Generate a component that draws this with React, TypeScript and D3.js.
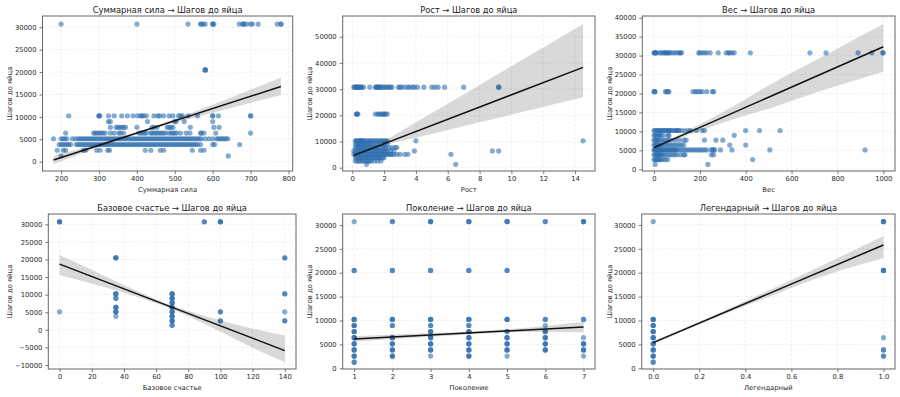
import React, { useEffect, useRef } from "react";
import * as d3 from "d3";

// rows: [шагов до яйца, x-значения точек]
type Row = [number, number[]];
// [x, шагов до яйца, сколько точек лежит друг на друге]
type Stack = [number, number, number];
// [x, линия, нижняя граница ДИ, верхняя граница ДИ]
type Fit = [number, number, number, number];

const stepsLabel = "Шагов до яйца";

const totalRows: Row[] = [
  [30720, [200, 400, 535, 568, 570, 575, 580, 600, 600, 603, 670, 680, 680, 683, 690, 700, 705, 720, 770, 780, 780]],
  [20480, [580, 580, 581]],
  [10240, [220, 300, 300, 302, 325, 340, 360, 375, 390, 402, 410, 413, 418, 425, 445, 455, 460, 470, 485, 495, 510, 515, 520, 535, 560, 600, 600, 615, 700, 700]],
  [8960, [325, 330, 428, 500, 503, 525, 600]],
  [7680, [330, 345, 350, 355, 360, 365, 370, 400, 440, 445, 453, 480, 485, 490, 495, 541, 603, 617]],
  [6400, [212, 286, 290, 295, 300, 305, 310, 316, 330, 340, 352, 357, 365, 405, 410, 415, 420, 425, 436, 440, 445, 450, 455, 460, 465, 470, 475, 484, 490, 495, 500, 505, 515, 530, 540, 568, 570, 577, 608, 700]],
  [5120, [180, 200, 205, 210, 215, 230, 238, 245, 250, 255, 260, 265, 270, 275, 280, 285, 290, 295, 300, 305, 310, 315, 320, 325, 330, 335, 340, 345, 350, 355, 360, 365, 370, 375, 380, 385, 390, 395, 400, 405, 410, 415, 420, 425, 430, 435, 440, 445, 450, 455, 460, 465, 470, 475, 480, 485, 490, 495, 500, 505, 510, 515, 520, 525, 530, 535, 540, 545, 550, 555, 560, 565, 570, 580, 590, 600, 610, 615, 620, 625, 630, 635, 640]],
  [3840, [195, 200, 205, 210, 215, 220, 225, 240, 245, 250, 255, 260, 265, 270, 275, 280, 285, 290, 295, 300, 305, 310, 315, 320, 325, 330, 335, 340, 345, 350, 355, 360, 365, 370, 375, 380, 385, 390, 395, 400, 405, 410, 415, 420, 425, 430, 435, 440, 445, 450, 455, 460, 465, 470, 475, 480, 485, 490, 495, 500, 505, 510, 515, 520, 525, 530, 535, 540, 545, 550, 555, 560, 568, 600, 605, 671]],
  [2560, [190, 206, 212, 259, 265, 294, 303, 323, 328, 422, 437, 462, 471, 546, 568, 577]],
  [1280, [200, 641]],
];

const heightRows: Row[] = [
  [30720, [0.1, 0.15, 0.2, 0.25, 0.3, 0.35, 0.4, 0.45, 0.5, 0.55, 0.6, 0.7, 1.1, 1.45, 1.5, 1.55, 1.6, 1.65, 1.7, 1.75, 1.8, 1.9, 2.0, 2.1, 2.2, 2.3, 2.4, 2.5, 2.9, 3.0, 3.1, 3.3, 3.5, 3.6, 3.8, 3.9, 4.1, 4.5, 5.0, 5.2, 5.4, 5.8, 7.0, 9.2, 9.2]],
  [20480, [0.25, 0.3, 0.3, 0.35, 1.45, 1.6, 1.7, 1.8, 1.9, 2.0, 2.0, 2.1, 2.2]],
  [10240, [0.2, 0.25, 0.3, 0.4, 0.45, 0.5, 0.55, 0.6, 0.65, 0.7, 0.8, 0.9, 1.0, 1.1, 1.2, 1.3, 1.4, 1.5, 1.6, 1.7, 1.8, 1.9, 2.0, 2.1, 2.2, 4.0, 14.5]],
  [8960, [0.2, 0.3, 0.4, 0.5, 0.6, 0.7, 0.8, 0.9, 1.0, 1.1, 1.2, 1.3, 1.5, 1.6, 1.8, 2.0, 2.2]],
  [7680, [0.2, 0.3, 0.4, 0.5, 0.6, 0.7, 0.8, 0.9, 1.0, 1.1, 1.2, 1.4, 1.5, 1.6, 1.7, 1.9, 2.0, 2.1, 2.3, 2.5, 2.7, 2.8]],
  [6400, [0.1, 0.2, 0.3, 0.4, 0.5, 0.6, 0.7, 0.8, 0.9, 1.0, 1.1, 1.2, 1.3, 1.4, 1.5, 1.6, 1.7, 1.8, 1.9, 2.0, 2.1, 2.2, 2.4, 2.6, 3.9, 8.8, 9.2]],
  [5120, [0.1, 0.2, 0.3, 0.4, 0.5, 0.6, 0.7, 0.8, 0.9, 1.0, 1.1, 1.2, 1.3, 1.4, 1.5, 1.6, 1.7, 1.8, 1.9, 2.0, 2.1, 2.2, 2.3, 2.4, 2.5, 2.6, 2.8, 3.0, 3.3, 3.5, 6.2]],
  [3840, [0.2, 0.3, 0.4, 0.5, 0.6, 0.7, 0.8, 0.9, 1.0, 1.1, 1.2, 1.3, 1.4, 1.5, 1.6, 1.7, 1.8, 1.9, 2.0]],
  [2560, [0.2, 0.3, 0.4, 0.5, 0.6, 0.7, 0.8, 0.9, 1.0, 1.1, 1.2, 1.4, 1.6, 1.8]],
  [1280, [0.9, 6.5]],
];

const weightRows: Row[] = [
  [30720, [0, 2, 5, 8, 10, 25, 30, 40, 45, 50, 55, 60, 65, 70, 80, 90, 100, 110, 115, 120, 195, 200, 210, 220, 230, 245, 280, 315, 325, 330, 340, 350, 420, 680, 750, 890, 950, 999, 999]],
  [20480, [0, 2, 5, 50, 55, 60, 65, 170, 180, 190, 200, 210, 230, 255, 260]],
  [10240, [0, 5, 10, 15, 20, 25, 30, 35, 40, 45, 50, 55, 60, 65, 70, 75, 80, 90, 95, 100, 105, 110, 120, 135, 150, 160, 185, 210, 220, 400, 460, 550]],
  [8960, [0, 5, 10, 20, 25, 30, 40, 60, 65, 350]],
  [7680, [0, 5, 10, 15, 20, 30, 40, 50, 60, 70, 90, 110, 130, 140, 220, 270, 300]],
  [6400, [0, 5, 10, 15, 20, 25, 30, 40, 50, 60, 70, 80, 90, 100, 110, 120, 130, 330, 400]],
  [5120, [0, 3, 6, 10, 14, 18, 22, 26, 30, 35, 40, 45, 50, 55, 60, 65, 70, 75, 80, 85, 90, 95, 100, 110, 120, 130, 140, 150, 160, 170, 180, 190, 200, 210, 220, 230, 250, 255, 260, 265, 290, 340, 505, 920]],
  [3840, [0, 5, 10, 15, 20, 25, 30, 35, 40, 50, 60, 70, 80, 90, 100, 115, 130, 135, 250, 260]],
  [2560, [0, 5, 10, 15, 20, 25, 30, 40, 50, 60, 430]],
  [1280, [5, 235]],
];

const happinessPts: Stack[] = [
  [0, 30720, 3], [0, 5120, 1],
  [35, 20480, 3], [35, 10240, 3], [35, 8960, 2], [35, 6400, 3], [35, 5120, 3], [35, 3840, 1],
  [70, 10240, 3], [70, 8960, 3], [70, 7680, 3], [70, 6400, 3], [70, 5120, 3], [70, 3840, 3], [70, 2560, 3], [70, 1280, 2],
  [90, 30720, 2],
  [100, 30720, 3], [100, 5120, 2], [100, 2560, 2],
  [140, 20480, 2], [140, 10240, 2], [140, 5120, 1], [140, 2560, 2],
];

const generationPts: Stack[] = [
  [1, 30720, 1], [1, 20480, 2], [1, 10240, 3], [1, 8960, 3], [1, 7680, 3], [1, 6400, 3], [1, 5120, 3], [1, 3840, 3], [1, 2560, 3], [1, 1280, 2],
  [2, 30720, 2], [2, 20480, 2], [2, 10240, 3], [2, 8960, 2], [2, 6400, 3], [2, 5120, 3], [2, 3840, 3], [2, 2560, 3],
  [3, 30720, 3], [3, 20480, 2], [3, 10240, 3], [3, 8960, 2], [3, 7680, 3], [3, 6400, 3], [3, 5120, 3], [3, 3840, 3], [3, 2560, 1],
  [4, 30720, 3], [4, 20480, 2], [4, 10240, 3], [4, 8960, 2], [4, 7680, 3], [4, 6400, 3], [4, 5120, 3], [4, 3840, 3], [4, 2560, 3],
  [5, 30720, 3], [5, 20480, 2], [5, 10240, 3], [5, 7680, 2], [5, 6400, 3], [5, 5120, 3], [5, 3840, 3], [5, 2560, 1],
  [6, 30720, 2], [6, 10240, 2], [6, 8960, 1], [6, 7680, 3], [6, 6400, 3], [6, 5120, 3], [6, 3840, 3],
  [7, 30720, 3], [7, 10240, 2], [7, 6400, 1], [7, 5120, 3], [7, 3840, 3], [7, 2560, 1],
];

const legendaryPts: Stack[] = [
  [0, 30720, 1], [0, 10240, 3], [0, 8960, 3], [0, 7680, 3], [0, 6400, 3], [0, 5120, 3], [0, 3840, 3], [0, 2560, 3], [0, 1280, 2],
  [1, 30720, 3], [1, 20480, 3], [1, 6400, 1], [1, 3840, 2], [1, 2560, 2],
];

const totalFit: Fit[] = [
  [180, 372, -500, 1250], [280, 3107, 2600, 3600], [380, 5842, 5570, 6110], [480, 8577, 8250, 8900],
  [580, 11312, 10500, 12100], [680, 14047, 12700, 15400], [780, 16782, 14880, 18820],
];
const heightFit: Fit[] = [
  [0.1, 4707, 4100, 5300], [1, 6800, 6400, 7200], [2, 9140, 8500, 10200], [4, 13800, 11400, 17300],
  [8, 23140, 17300, 31600], [11, 30140, 21700, 42300], [14.5, 38300, 26850, 54850],
];
const weightFit: Fit[] = [
  [0, 5714, 5300, 6150], [100, 8378, 7900, 8850], [200, 11040, 10200, 11900], [350, 15040, 13300, 16800],
  [500, 19030, 16000, 22180], [750, 25690, 21100, 30250], [1000, 32350, 25760, 38330],
];
const happinessFit: Fit[] = [
  [0, 18670, 15600, 21300], [20, 15160, 13200, 17100], [40, 11650, 10550, 12750], [70, 6385, 5850, 6900],
  [100, 1120, -500, 2700], [120, -2390, -5100, 300], [140, -5900, -9240, -1620],
];
const generationFit: Fit[] = [
  [1, 6140, 5580, 6700], [2.5, 6770, 6330, 7210], [4, 7400, 7100, 7700], [5.5, 8030, 7580, 8480], [7, 8650, 7540, 9770],
];
const legendaryFit: Fit[] = [
  [0, 5370, 5050, 5700], [0.25, 10480, 10150, 10800], [0.5, 15600, 14900, 16300], [0.75, 20710, 19500, 21900], [1, 25820, 23030, 27700],
];

const totalTicks = [200, 300, 400, 500, 600, 700, 800];
const heightTicks = [0, 2, 4, 6, 8, 10, 12, 14];
const weightTicks = [0, 200, 400, 600, 800, 1000];
const happinessTicks = [0, 20, 40, 60, 80, 100, 120, 140];
const generationTicks = [1, 2, 3, 4, 5, 6, 7];
const legendaryTicks = [0, 0.2, 0.4, 0.6, 0.8, 1.0];

const steps30k = [0, 5000, 10000, 15000, 20000, 25000, 30000];
const steps50k = [0, 10000, 20000, 30000, 40000, 50000];
const steps40k = [0, 5000, 10000, 15000, 20000, 25000, 30000, 35000, 40000];
const stepsNeg = [-10000, -5000, 0, 5000, 10000, 15000, 20000, 25000, 30000];

const fromRows = (rows: Row[]) => rows.flatMap(([s, xs]) => xs.map(x => [x, s] as [number, number]));
const fromStacks = (pts: Stack[]) =>
  pts.flatMap(([x, s, n]) => d3.range(n).map(() => [x, s] as [number, number]));

const panels = [
  {
    name: "Суммарная сила", box: [42.5, 292.7, 16, 171], ylx: 9.3,
    xDomain: [151, 811], yDomain: [-2076, 32522], xTicks: totalTicks, yTicks: steps30k,
    xFmt: d3.format("d"), points: fromRows(totalRows), fit: totalFit,
  },
  {
    name: "Рост", box: [342.7, 595, 16, 171], ylx: 309.3,
    xDomain: [-0.6, 15.25], yDomain: [-1260, 57900], xTicks: heightTicks, yTicks: steps50k,
    xFmt: d3.format("d"), points: fromRows(heightRows), fit: heightFit,
  },
  {
    name: "Вес", box: [642.3, 895, 16, 171], ylx: 609.3,
    xDomain: [-51, 1051], yDomain: [-450, 40450], xTicks: weightTicks, yTicks: steps40k,
    xFmt: d3.format("d"), points: fromRows(weightRows), fit: weightFit,
  },
  {
    name: "Базовое счастье", box: [48.3, 296, 214, 369], ylx: 9.3,
    xDomain: [-7, 147], yDomain: [-11137, 32928], xTicks: happinessTicks, yTicks: stepsNeg,
    xFmt: d3.format("d"), points: fromStacks(happinessPts), fit: happinessFit,
  },
  {
    name: "Поколение", box: [342.7, 595, 214, 369], ylx: 309.3,
    xDomain: [0.7, 7.3], yDomain: [-147, 32300], xTicks: generationTicks, yTicks: steps30k,
    xFmt: d3.format("d"), points: fromStacks(generationPts), fit: generationFit,
  },
  {
    name: "Легендарный", box: [641.7, 895, 214, 369], ylx: 609.3,
    xDomain: [-0.05, 1.05], yDomain: [-147, 32300], xTicks: legendaryTicks, yTicks: steps30k,
    xFmt: d3.format(".1f"), points: fromStacks(legendaryPts), fit: legendaryFit,
  },
];

const FONT = "DejaVu Sans, Verdana, sans-serif";

const App = () => {
  const ref = useRef<SVGSVGElement>(null);

  useEffect(() => {
    document.body.style.margin = "0";
    const svg = d3.select(ref.current);
    svg.selectAll("*").remove();

    panels.forEach((p, i) => {
      const [l, r, t, b] = p.box;
      const x = d3.scaleLinear().domain(p.xDomain).range([l, r]);
      const y = d3.scaleLinear().domain(p.yDomain).range([b, t]);
      const g = svg.append("g");

      const clipId = `clip-${i}`;
      svg.append("clipPath").attr("id", clipId)
        .append("rect").attr("x", l).attr("y", t).attr("width", r - l).attr("height", b - t);

      // Grid
      g.append("g").selectAll("line").data(p.xTicks).join("line")
        .attr("x1", d => x(d)).attr("x2", d => x(d)).attr("y1", t).attr("y2", b)
        .attr("stroke", "#e2e2e2").attr("stroke-width", 0.6).attr("stroke-dasharray", "2.5,2");
      g.append("g").selectAll("line").data(p.yTicks).join("line")
        .attr("x1", l).attr("x2", r).attr("y1", d => y(d)).attr("y2", d => y(d))
        .attr("stroke", "#e2e2e2").attr("stroke-width", 0.6).attr("stroke-dasharray", "2.5,2");

      const plot = g.append("g").attr("clip-path", `url(#${clipId})`);

      // Points
      plot.append("g").selectAll("circle").data(p.points).join("circle")
        .attr("cx", d => x(d[0])).attr("cy", d => y(d[1])).attr("r", 2.6)
        .attr("fill", "#2e6eb0").attr("fill-opacity", 0.58);

      // CI band
      const band = d3.area<Fit>()
        .x(d => x(d[0])).y0(d => y(d[2])).y1(d => y(d[3]))
        .curve(d3.curveMonotoneX);
      plot.append("path").attr("d", band(p.fit)).attr("fill", "#000").attr("fill-opacity", 0.15);

      // Fit line
      const first = p.fit[0];
      const last = p.fit[p.fit.length - 1];
      plot.append("line")
        .attr("x1", x(first[0])).attr("y1", y(first[1]))
        .attr("x2", x(last[0])).attr("y2", y(last[1]))
        .attr("stroke", "#111").attr("stroke-width", 1.5);

      // Axes
      const xa = g.append("g").attr("transform", `translate(0,${b})`)
        .call(d3.axisBottom(x).tickValues(p.xTicks).tickFormat(p.xFmt as any).tickSize(3).tickPadding(2.5));
      const ya = g.append("g").attr("transform", `translate(${l},0)`)
        .call(d3.axisLeft(y).tickValues(p.yTicks).tickFormat(d3.format("d") as any).tickSize(3).tickPadding(3));
      [xa, ya].forEach(a => {
        a.select(".domain").remove();
        a.selectAll("line").attr("stroke", "#555").attr("stroke-width", 0.8);
        a.selectAll("text").attr("font-family", FONT).attr("font-size", "6.8px").attr("fill", "#2a2a2a");
      });

      g.append("rect").attr("x", l).attr("y", t).attr("width", r - l).attr("height", b - t)
        .attr("fill", "none").attr("stroke", "#666").attr("stroke-width", 1);

      // Labels
      g.append("text").attr("x", (l + r) / 2).attr("y", t - 3).attr("text-anchor", "middle")
        .attr("font-family", FONT).attr("font-size", "8.3px").attr("fill", "#1a1a1a")
        .text(`${p.name} → ${stepsLabel}`);
      g.append("text").attr("x", (l + r) / 2).attr("y", b + 21).attr("text-anchor", "middle")
        .attr("font-family", FONT).attr("font-size", "6.8px").attr("fill", "#2a2a2a")
        .text(p.name);
      g.append("text")
        .attr("transform", `translate(${p.ylx},${(t + b) / 2}) rotate(-90)`)
        .attr("dy", "0.35em").attr("text-anchor", "middle")
        .attr("font-family", FONT).attr("font-size", "6.8px").attr("fill", "#2a2a2a")
        .text(stepsLabel);
    });
  }, []);

  return <svg ref={ref} width={900} height={397} style={{ display: "block", background: "#fff" }}></svg>;
};

export default App;
